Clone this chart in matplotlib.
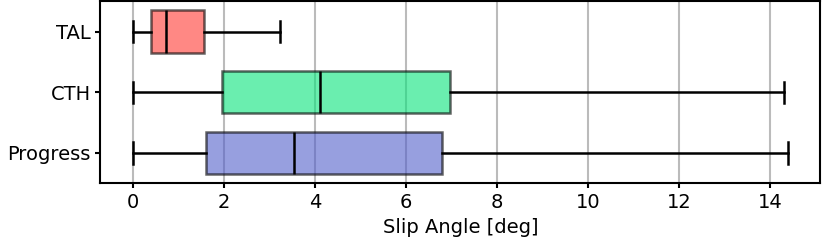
import matplotlib
matplotlib.use('Agg')
import matplotlib.pyplot as plt

# box stats (slip angle in deg)
labels = ['Progress', 'CTH', 'TAL']
whislo = [0.0, 0.0, 0.0]
q1 = [1.61, 1.96, 0.39]
med = [3.54, 4.10, 0.73]
q3 = [6.79, 6.96, 1.55]
whishi = [14.39, 14.30, 3.24]
colors = ['#525fcb', '#07e47b', '#ff3932']

stats = []
for i in range(len(labels)):
    stats.append({'label': labels[i], 'whislo': whislo[i], 'q1': q1[i], 'med': med[i],
                  'q3': q3[i], 'whishi': whishi[i], 'fliers': []})

plt.rcParams['font.size'] = 14
fig, ax = plt.subplots(figsize=(8.22, 2.46), dpi=100)
bp = ax.bxp(stats, vert=False, widths=0.7, patch_artist=True,
            medianprops=dict(color='black', linewidth=1.8),
            whiskerprops=dict(color='black', linewidth=1.8),
            capprops=dict(color='black', linewidth=1.8))
for box, c in zip(bp['boxes'], colors):
    box.set_facecolor(matplotlib.colors.to_rgba(c, 0.6))
    box.set_edgecolor((0, 0, 0, 0.6))
    box.set_linewidth(1.8)

ax.set_axisbelow(True)
ax.grid(axis='x', color='#bbbbbb', linewidth=1.5)
ax.set_xticks(range(0, 15, 2))
ax.set_xlabel('Slip Angle [deg]')
for s in ax.spines.values():
    s.set_linewidth(1.5)
ax.tick_params(width=1.5)

fig.subplots_adjust(left=0.122, right=0.998, top=0.995, bottom=0.255)
fig.savefig('out.png')
